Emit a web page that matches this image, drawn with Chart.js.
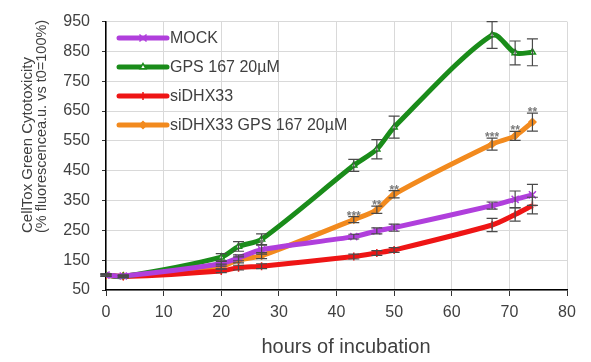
<!DOCTYPE html>
<html><head><meta charset="utf-8">
<script src="https://cdn.jsdelivr.net/npm/chart.js@4/dist/chart.umd.min.js"></script>
<style>html,body{margin:0;padding:0;background:#fff}#wrap{width:591px;height:362px}</style>
</head><body><div id="wrap"><canvas id="c" width="591" height="362"></canvas></div>
<script>
const hours = [0, 3, 20, 23, 27, 43, 47, 50, 67, 71, 74];
const seriesNames = ['MOCK', 'GPS 167 20µM', 'siDHX33', 'siDHX33 GPS 167 20µM'];
const mock = [100, 97, 138, 158, 185, 229, 248, 259, 333, 354, 369];
const gps = [100, 95, 160, 196, 220, 468, 522, 596, 905, 845, 847];
const siDHX = [100, 95, 114, 125, 130, 162, 174, 184, 268, 303, 333];
const siDHXgps = [100, 97, 129, 151, 165, 286, 319, 371, 539, 567, 613];
const mockErr = [3, 3, 8, 10, 15, 8, 10, 12, 12, 28, 35];
const gpsErr = [4, 4, 12, 16, 18, 20, 32, 37, 45, 40, 45];
const siDHXErr = [3, 3, 6, 8, 8, 8, 8, 8, 22, 22, 28];
const siDHXgpsErr = [3, 3, 8, 10, 10, 10, 12, 12, 20, 15, 30];
// significance marks: index into hours, series index, text
const sigIndex = [4, 5, 6, 7, 8, 9, 10];
const sigSeries = [0, 3, 3, 3, 3, 3, 3];
const sigText = ['*', '***', '**', '**', '***', '**', '**'];
const xTicks = [0, 10, 20, 30, 40, 50, 60, 70, 80];
const yTicks = [50, 150, 250, 350, 450, 550, 650, 750, 850, 950];

const FONT = 'Liberation Sans, Arial, sans-serif';
const colors = ['#B03FDC', '#1A8C1A', '#EE1515', '#F28A1E'];
const values = [mock, gps, siDHX, siDHXgps];
const errs = [mockErr, gpsErr, siDHXErr, siDHXgpsErr];
const pStyles = ['crossRot', 'triangle', 'cross', 'rectRot'];
const pRadius = [5, 3.5, 4, 3.5];
const pBg = ['#B03FDC', '#ffffff', '#EE1515', '#F28A1E'];

const datasets = values.map((v, i) => ({
  label: seriesNames[i],
  data: v.map((y, j) => ({x: hours[j], y})),
  borderColor: colors[i],
  backgroundColor: pBg[i],
  pointBorderColor: colors[i],
  pointBackgroundColor: pBg[i],
  pointStyle: pStyles[i],
  pointRadius: pRadius[i],
  pointBorderWidth: 1.5,
  borderWidth: 5,
  tension: 0.28,
  errs: errs[i]
}));

const errorBars = {
  id: 'errorBars',
  afterDatasetsDraw(chart) {
    const ctx = chart.ctx, xs = chart.scales.x, ys = chart.scales.y;
    ctx.save();
    ctx.strokeStyle = '#4a4a4a';
    ctx.lineWidth = 1.2;
    chart.data.datasets.forEach(ds => {
      ds.data.forEach((p, j) => {
        const e = ds.errs[j];
        const px = xs.getPixelForValue(p.x);
        const t = ys.getPixelForValue(p.y + e), b = ys.getPixelForValue(p.y - e);
        ctx.beginPath();
        ctx.moveTo(px, t); ctx.lineTo(px, b);
        ctx.moveTo(px - 5.5, t); ctx.lineTo(px + 5.5, t);
        ctx.moveTo(px - 5.5, b); ctx.lineTo(px + 5.5, b);
        ctx.stroke();
      });
    });
    ctx.fillStyle = '#7a7a7a';
    ctx.font = 'bold 12px ' + FONT;
    ctx.textAlign = 'center';
    ctx.textBaseline = 'alphabetic';
    sigIndex.forEach((idx, k) => {
      const s = sigSeries[k];
      const v = values[s][idx] + errs[s][idx];
      const px = xs.getPixelForValue(hours[idx]);
      const py = ys.getPixelForValue(v) + 3;
      ctx.fillText(sigText[k], px, py);
    });
    ctx.restore();
  }
};

const legendAndTitles = {
  id: 'legendAndTitles',
  afterDraw(chart) {
    const ctx = chart.ctx;
    ctx.save();
    const lx0 = 119, lx1 = 167, ly0 = 38, dy = 29;
    chart.data.datasets.forEach((ds, i) => {
      const y = ly0 + i * dy;
      ctx.strokeStyle = ds.borderColor;
      ctx.lineWidth = 5;
      ctx.lineCap = 'round';
      ctx.beginPath(); ctx.moveTo(lx0, y); ctx.lineTo(lx1, y); ctx.stroke();
      ctx.lineCap = 'butt';
      ctx.lineWidth = 1.5;
      ctx.fillStyle = ds.pointBackgroundColor;
      Chart.helpers.drawPoint(ctx, {pointStyle: ds.pointStyle, radius: ds.pointRadius, borderWidth: 1.5},
        (lx0 + lx1) / 2, y);
      ctx.fillStyle = '#404040';
      ctx.font = '16px ' + FONT;
      ctx.textAlign = 'left';
      ctx.textBaseline = 'middle';
      ctx.fillText(ds.label, 170, y + 1);
    });
    ctx.fillStyle = '#404040';
    ctx.font = '20px ' + FONT;
    ctx.textAlign = 'center';
    ctx.textBaseline = 'middle';
    ctx.fillText('hours of incubation', 346, 347);
    ctx.save();
    ctx.translate(28, 233);
    ctx.rotate(-Math.PI / 2);
    ctx.font = '15px ' + FONT;
    ctx.textAlign = 'left';
    ctx.fillText('CellTox Green Cytotoxicity', 0, 0);
    ctx.restore();
    ctx.save();
    ctx.translate(42, 233);
    ctx.rotate(-Math.PI / 2);
    ctx.font = '14.5px ' + FONT;
    ctx.textAlign = 'left';
    ctx.fillText('(% fluorescencea.u. vs t0=100%)', 0, 0);
    ctx.restore();
    ctx.restore();
  }
};

new Chart(document.getElementById('c'), {
  type: 'line',
  data: {datasets},
  options: {
    responsive: false,
    animation: false,
    layout: {padding: {left: 0, right: 24, top: 17, bottom: 0}},
    plugins: {legend: {display: false}, tooltip: {enabled: false}},
    scales: {
      x: {
        type: 'linear', min: 0, max: 80,
        afterBuildTicks: s => { s.ticks = xTicks.map(v => ({value: v})); },
        afterFit: s => { s.height = 72; },
        grid: {color: '#d9d9d9', lineWidth: 1, tickLength: 6, tickColor: '#333', drawTicks: true},
        border: {display: true, color: '#000', width: 1.5},
        ticks: {font: {family: FONT, size: 16}, color: '#404040', padding: 7, maxRotation: 0}
      },
      y: {
        type: 'linear', min: 50, max: 950,
        afterBuildTicks: s => { s.ticks = yTicks.map(v => ({value: v})); },
        afterFit: s => { s.width = 106; },
        grid: {color: '#d9d9d9', lineWidth: 1, tickLength: 4, tickColor: '#333', drawTicks: true},
        border: {display: true, color: '#000', width: 1.5},
        ticks: {font: {family: FONT, size: 16}, color: '#404040', padding: 12}
      }
    }
  },
  plugins: [errorBars, legendAndTitles]
});
</script></body></html>
